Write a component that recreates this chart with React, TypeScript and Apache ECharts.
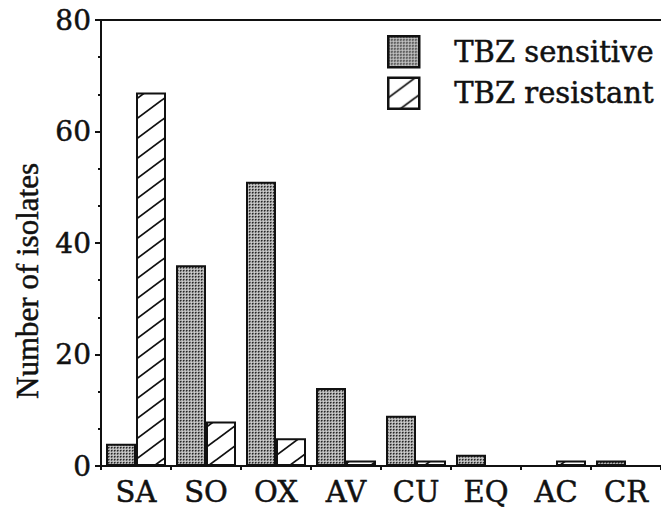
import React, { useEffect, useRef } from "react";
import * as echarts from "echarts";

const categories = ["SA", "SO", "OX", "AV", "CU", "EQ", "AC", "CR"];
const sensitive = [4, 36, 51, 14, 9, 2, 0, 1];
const resistant = [67, 8, 5, 1, 1, 0, 1, 0];
const yTicks = { min: 0, max: 80, interval: 20 };
const seriesNames = ["TBZ sensitive", "TBZ resistant"];
const yName = "Number of isolates";

const FONT = "DejaVu Serif";
const INK = "#111";
const BOLDEN = { textBorderColor: INK, textBorderWidth: 0.5 };

function makeDots(): HTMLCanvasElement {
  const c = document.createElement("canvas");
  c.width = 3;
  c.height = 3;
  const g = c.getContext("2d")!;
  g.fillStyle = "#b0b0b0";
  g.fillRect(0, 0, 3, 3);
  g.fillStyle = "#262626";
  g.fillRect(0, 0, 1, 1);
  g.fillStyle = "#646464";
  g.fillRect(1, 0, 1, 1);
  g.fillRect(0, 1, 1, 1);
  g.fillStyle = "#d0d0d0";
  g.fillRect(2, 2, 1, 1);
  return c;
}

function makeHatch(): HTMLCanvasElement {
  const w = 27;
  const h = 20;
  const c = document.createElement("canvas");
  c.width = w;
  c.height = h;
  const g = c.getContext("2d")!;
  g.fillStyle = "#ffffff";
  g.fillRect(0, 0, w, h);
  g.strokeStyle = INK;
  g.lineWidth = 1.8;
  for (let k = -1; k <= 1; k++) {
    g.beginPath();
    g.moveTo(0 - 2, h + k * h + (2 * h) / w);
    g.lineTo(w + 2, 0 + k * h - (2 * h) / w);
    g.stroke();
  }
  return c;
}

export default function App() {
  const ref = useRef<HTMLDivElement>(null);
  useEffect(() => {
    if (!ref.current) return;
    const chart = echarts.init(ref.current, null, { renderer: "svg" });
    const dots = { image: makeDots(), repeat: "repeat" };
    const hatch = { image: makeHatch(), repeat: "repeat" };
    chart.setOption({
      animation: false,
      backgroundColor: "#ffffff",
      grid: { left: 101, top: 20, right: -5, bottom: 43 },
      legend: {
        orient: "vertical",
        left: 387,
        top: 35,
        padding: 0,
        itemWidth: 31,
        itemHeight: 31,
        itemGap: 8,
        icon: "rect",
        itemStyle: { borderWidth: 2.5 },
        textStyle: {
          fontFamily: FONT,
          fontSize: 29,
          color: INK,
          padding: [0, 0, 0, 30],
          ...BOLDEN,
        },
        data: seriesNames,
      },
      graphic: [
        {
          type: "text",
          x: 27,
          y: 281,
          rotation: Math.PI / 2,
          style: {
            text: yName,
            font: `31px 'Liberation Serif'`,
            fill: INK,
            stroke: INK,
            lineWidth: 0.5,
            textAlign: "center",
            textVerticalAlign: "middle",
          },
        },
      ],
      xAxis: [
        {
          type: "category",
          data: categories,
          boundaryGap: true,
          axisLine: { lineStyle: { color: INK, width: 2 } },
          axisTick: { show: true, length: 4, lineStyle: { color: INK, width: 2 } },
          axisLabel: {
            fontFamily: FONT,
            fontSize: 29,
            color: INK,
            margin: 11,
            ...BOLDEN,
          },
        },
        {
          type: "category",
          data: categories,
          position: "top",
          axisLine: { lineStyle: { color: INK, width: 2 } },
          axisTick: { show: false },
          axisLabel: { show: false },
        },
      ],
      yAxis: {
        type: "value",
        min: yTicks.min,
        max: yTicks.max,
        interval: yTicks.interval,
        splitLine: { show: false },
        axisLine: { show: true, lineStyle: { color: INK, width: 2 } },
        axisTick: { show: true, length: 6, lineStyle: { color: INK, width: 2 } },
        minorTick: { show: true, splitNumber: 3, length: 3, lineStyle: { color: INK, width: 2 } },
        axisLabel: {
          fontFamily: FONT,
          fontSize: 28,
          color: INK,
          margin: 10,
          ...BOLDEN,
        },
      },
      series: [
        {
          name: seriesNames[0],
          type: "bar",
          data: sensitive,
          barWidth: 30,
          barGap: "0%",
          itemStyle: { color: dots, borderColor: INK, borderWidth: 2 },
        },
        {
          name: seriesNames[1],
          type: "bar",
          data: resistant,
          barWidth: 30,
          barGap: "0%",
          itemStyle: { color: hatch, borderColor: INK, borderWidth: 2 },
        },
      ],
    });
    return () => chart.dispose();
  }, []);
  return (
    <div
      ref={ref}
      style={{ position: "fixed", left: 0, top: 0, width: 661, height: 509 }}
    />
  );
}
